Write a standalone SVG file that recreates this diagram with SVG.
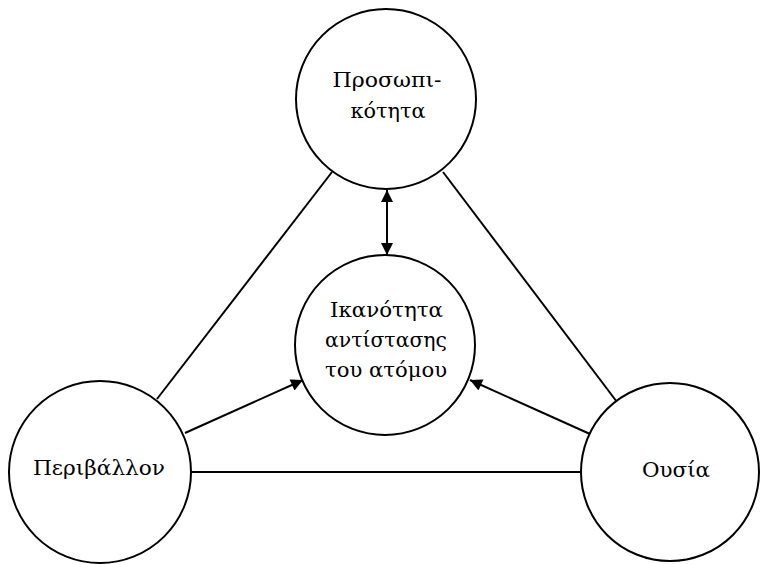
<svg xmlns="http://www.w3.org/2000/svg" width="760" height="564" viewBox="0 0 760 564">
<style>
.node{fill:#fff;stroke:#000;stroke-width:2}
.lbl{font-family:"DejaVu Serif","Liberation Serif",serif;font-size:21px;fill:#000;text-anchor:middle}
.ln{stroke:#000;stroke-width:2;fill:none}
</style>
<defs>
<marker id="ah2" viewBox="0 0 10 10" refX="10" refY="5" markerWidth="14" markerHeight="12" markerUnits="userSpaceOnUse" orient="auto-start-reverse">
<path d="M0,0 L10,5 L0,10 z" fill="#000"/>
</marker>
</defs>
<rect width="760" height="564" fill="#fff"/>
<g id="connectors">
<line class="ln" x1="332" y1="172" x2="157" y2="399"/>
<line class="ln" x1="443" y1="172" x2="617" y2="402"/>
<line class="ln" x1="191" y1="472" x2="581" y2="472"/>
<line class="ln" x1="387" y1="190" x2="387" y2="255" marker-start="url(#ah2)" marker-end="url(#ah2)"/>
<line class="ln" x1="185" y1="433" x2="303" y2="380" marker-end="url(#ah2)"/>
<line class="ln" x1="590" y1="434" x2="470" y2="380" marker-end="url(#ah2)"/>
</g>
<g id="personality">
<circle class="node" cx="386" cy="99" r="90"/>
<text class="lbl" x="387" y="87" textLength="109" lengthAdjust="spacingAndGlyphs">Προσωπι-</text>
<text class="lbl" x="388" y="118" textLength="75" lengthAdjust="spacingAndGlyphs">κότητα</text>
</g>
<g id="resistance">
<circle class="node" cx="385" cy="345" r="90"/>
<text class="lbl" x="386.5" y="317" textLength="113" lengthAdjust="spacingAndGlyphs">Ικανότητα</text>
<text class="lbl" x="386" y="347" textLength="122" lengthAdjust="spacingAndGlyphs">αντίστασης</text>
<text class="lbl" x="386" y="377" textLength="122" lengthAdjust="spacingAndGlyphs">του ατόμου</text>
</g>
<g id="environment">
<circle class="node" cx="100" cy="472" r="91"/>
<text class="lbl" x="99" y="475" textLength="132" lengthAdjust="spacingAndGlyphs">Περιβάλλον</text>
</g>
<g id="essence">
<circle class="node" cx="670" cy="472" r="89"/>
<text class="lbl" x="676" y="477" textLength="68" lengthAdjust="spacingAndGlyphs">Ουσία</text>
</g>
</svg>
